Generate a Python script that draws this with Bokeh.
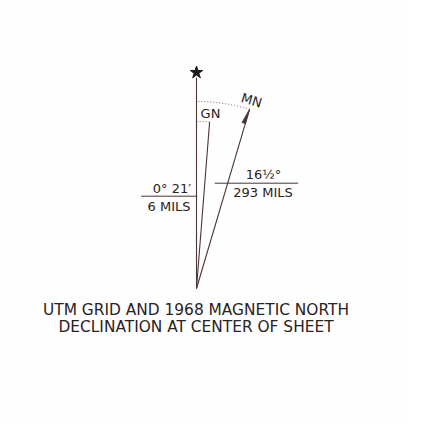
import math
from bokeh.plotting import figure
from bokeh.models import Range1d
from bokeh.core.properties import value
from bokeh.embed import file_html
from bokeh.resources import INLINE

# ---- data ----
line_names = ["TN", "GN", "MN"]
bearings_deg = [0.0, 4.5, 16.5]          # GN drawn exaggerated (true 0°21')
gn_labels = ["0° 21′", "6 MILS"]
mn_labels = ["16½°", "293 MILS"]
caption = ["UTM GRID AND 1968 MAGNETIC NORTH", "DECLINATION AT CENTER OF SHEET"]

LINE = "#4a3434"
TEXT = "#2a2222"
FONT = value("DejaVu Sans")

W, H = 405, 423
p = figure(width=W, height=H, output_backend="svg", toolbar_location=None,
           x_range=Range1d(0, W), y_range=Range1d(16, 16 + H),
           min_border=0, background_fill_color="#fefefe", border_fill_color="#fefefe")
p.axis.visible = False
p.grid.visible = False
p.outline_line_color = None

def Y(ref_y):
    return 439 - ref_y

ax, ay = 196, Y(288)
lengths = {"TN": 211, "GN": 167, "MN": 187}

ends = {}
for name, b in zip(line_names, bearings_deg):
    a = math.radians(b)
    L = lengths[name]
    ex, ey = ax + L * math.sin(a), ay + L * math.cos(a)
    ends[name] = (ex, ey)
    p.line([ax, ex], [ay, ey], line_color=LINE, line_width=1.1)

# star
p.scatter([ends["TN"][0]], [ends["TN"][1] + 5], marker="star", size=13,
          fill_color="#1e1818", line_color="#1e1818")

# dotted arcs
for name, b in zip(line_names[1:], bearings_deg[1:]):
    p.arc(x=[ax], y=[ay], radius=lengths[name], start_angle=math.radians(90 - b),
          end_angle=math.radians(90), line_color="#6f6068", line_dash="1 2", line_width=1)

# half arrowhead on MN
a = math.radians(bearings_deg[2])
ux, uy = math.sin(a), math.cos(a)
tip = ends["MN"]
base = (ax + (lengths["MN"] - 15) * ux, ay + (lengths["MN"] - 15) * uy)
barb = (base[0] - 3.5 * uy, base[1] + 3.5 * ux)
p.patch([tip[0], base[0], barb[0]], [tip[1], base[1], barb[1]], fill_color=LINE, line_color=LINE, line_width=0.8)

# name labels
p.text([210], [Y(113)], text=["GN"], text_font=FONT, text_font_size="13px",
       text_color=TEXT, text_align="center", text_baseline="middle")
p.text([251], [Y(100)], text=["MN"], text_font=FONT, text_font_size="13px",
       text_color=TEXT, text_align="center", text_baseline="middle", angle=-a)

# declination value labels
p.line([140.7, 196.7], [Y(195.7), Y(195.7)], line_color=LINE, line_width=1)
p.text([171.5, 168.5], [Y(187.7), Y(205.7)], text=gn_labels, text_font=FONT,
       text_font_size="13px", text_color=TEXT, text_align="center", text_baseline="middle")
p.line([214.3, 297.7], [Y(182.7), Y(182.7)], line_color=LINE, line_width=1)
p.text([263, 262.5], [Y(174), Y(191.7)], text=mn_labels, text_font=FONT,
       text_font_size="13px", text_color=TEXT, text_align="center", text_baseline="middle")

# caption
p.text([195.5, 195.5], [Y(309.3), Y(326)], text=caption, text_font=FONT,
       text_font_size="15.4px", text_color=TEXT, text_align="center", text_baseline="middle")

open("out.html", "w").write(file_html(p, INLINE))
